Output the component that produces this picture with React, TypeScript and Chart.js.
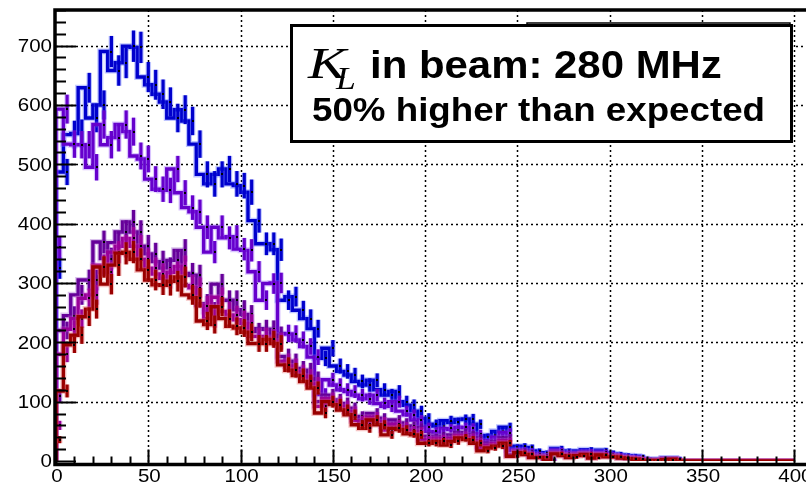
import React, { useEffect, useRef } from "react";
import { Chart, registerables } from "chart.js";

Chart.register(...registerables);

// Histogram binning: 100 bins of width 4 over 0..400
const BIN_WIDTH = 4;
const binLowEdges: number[] = Array.from({ length: 100 }, (_, i) => i * BIN_WIDTH);

const xTickLabels = ["0", "50", "100", "150", "200", "250", "300", "350", "400"];
const yTickLabels = ["0", "100", "200", "300", "400", "500", "600", "700"];

// Counts per bin for each histogram
const blueCounts = [
  325, 487, 550, 552, 629, 578, 600, 690, 658, 671,
  699, 697, 647, 634, 618, 605, 578, 592, 573, 534,
  483, 467, 483, 492, 467, 464, 453, 405, 366, 366,
  356, 271, 277, 254, 240, 223, 173, 190, 160, 151,
  145, 134, 128, 136, 120, 111, 117, 100, 94, 84,
  72, 62, 59, 68, 65, 70, 71, 62, 40, 43,
  50, 57, 23, 25, 23, 17, 14, 3, 21, 17,
  12, 17, 19, 12, 18, 14, 12, 10, 9, 8,
  4, 3, 3, 5, 5, 0, 0, 0, 0, 0,
  0, 0, 0, 0, 0, 0, 0, 0, 0, 0,
];

const violetCounts = [
  360, 593, 534, 533, 533, 495, 567, 533, 545, 567,
  555, 514, 509, 475, 458, 456, 492, 452, 427, 420,
  394, 352, 394, 376, 378, 357, 355, 319, 271, 299,
  300, 215, 214, 204, 193, 175, 112, 137, 128, 120,
  117, 111, 105, 111, 97, 92, 100, 84, 78, 69,
  57, 50, 48, 55, 53, 57, 56, 46, 31, 34,
  40, 48, 18, 19, 17, 12, 10, 2, 18, 14,
  10, 14, 16, 10, 15, 12, 10, 8, 7, 6,
  3, 2, 2, 4, 4, 0, 0, 0, 0, 0,
  0, 0, 0, 0, 0, 0, 0, 0, 0, 0,
];

const purpleCounts = [
  110, 220, 245, 280, 305, 305, 369, 341, 368, 386,
  403, 386, 362, 349, 336, 325, 338, 355, 316, 313,
  265, 252, 298, 271, 271, 255, 247, 218, 223, 222,
  212, 176, 168, 156, 153, 139, 100, 111, 103, 97,
  89, 75, 69, 80, 72, 59, 69, 64, 59, 56,
  42, 39, 42, 39, 44, 48, 44, 39, 25, 30,
  33, 39, 11, 17, 14, 9, 8, 1, 15, 11,
  8, 12, 13, 7, 12, 9, 8, 6, 5, 4,
  2, 1, 1, 3, 3, 0, 0, 0, 0, 0,
  0, 0, 0, 0, 0, 0, 0, 0, 0, 0,
];

const magentaCounts = [
  60, 180, 222, 240, 274, 280, 330, 318, 352, 362,
  375, 362, 340, 325, 315, 308, 318, 328, 296, 292,
  262, 240, 276, 252, 246, 238, 232, 210, 210, 208,
  202, 168, 160, 150, 143, 130, 92, 105, 99, 92,
  83, 68, 62, 74, 66, 52, 62, 58, 52, 50,
  36, 34, 38, 33, 38, 43, 40, 34, 21, 26,
  29, 34, 9, 15, 12, 7, 7, 1, 13, 10,
  7, 10, 12, 6, 11, 8, 8, 6, 5, 4,
  2, 1, 1, 3, 3, 0, 0, 0, 0, 0,
  0, 0, 0, 0, 0, 0, 0, 0, 0, 0,
];

const redCounts = [
  36, 118, 196, 212, 243, 256, 327, 298, 330, 350,
  352, 340, 322, 305, 297, 296, 303, 310, 280, 275,
  236, 230, 260, 240, 227, 224, 217, 198, 198, 205,
  198, 162, 153, 144, 134, 123, 81, 100, 95, 86,
  78, 61, 55, 69, 61, 44, 55, 53, 46, 44,
  30, 30, 33, 27, 33, 39, 36, 30, 17, 22,
  25, 30, 8, 14, 11, 6, 6, 0, 12, 9,
  6, 9, 11, 5, 10, 7, 7, 5, 4, 3,
  1, 1, 1, 2, 3, 0, 0, 0, 0, 0,
  0, 0, 0, 0, 0, 0, 0, 0, 0, 0,
];

const seriesCounts = [blueCounts, violetCounts, purpleCounts, magentaCounts, redCounts];
const seriesColors = ["#0000cc", "#6600cc", "#660099", "#990099", "#990000"];
const haloColors = [
  "rgba(70,90,255,0.35)",
  "rgba(150,90,255,0.35)",
  "rgba(150,80,200,0.35)",
  "rgba(210,80,210,0.35)",
  "rgba(230,90,90,0.35)",
];

const X_MIN = 0;
const X_MAX = 406.3;
const Y_MIN = 0;
const Y_MAX = 760;

const SANS = "'Liberation Sans', Arial, Helvetica, sans-serif";
const SERIF = "'Liberation Serif', 'Times New Roman', serif";
const TEXT_STRETCH = 1.08;

// Step outline of a histogram: rises from zero at the first edge, falls back at the last
function stepPoints(counts: number[]) {
  const pts: { x: number; y: number }[] = [{ x: binLowEdges[0], y: 0 }];
  counts.forEach((c, i) => pts.push({ x: binLowEdges[i], y: c }));
  const lastEdge = binLowEdges[binLowEdges.length - 1] + BIN_WIDTH;
  pts.push({ x: lastEdge, y: 0 });
  return pts;
}

function stretchedText(
  ctx: CanvasRenderingContext2D,
  text: string,
  x: number,
  y: number,
  font: string,
  align: CanvasTextAlign,
  baseline: CanvasTextBaseline,
  sx: number
) {
  ctx.save();
  ctx.font = font;
  ctx.textAlign = align;
  ctx.textBaseline = baseline;
  ctx.fillStyle = "#000";
  ctx.translate(x, y);
  ctx.scale(sx, 1);
  ctx.fillText(text, 0, 0);
  ctx.restore();
}

// Dotted grid behind the histograms
const gridPlugin = {
  id: "dottedGrid",
  beforeDatasetsDraw(chart: any) {
    const { ctx, chartArea, scales } = chart;
    const xs = scales.x;
    const ys = scales.y;
    ctx.save();
    ctx.strokeStyle = "#000";
    ctx.lineWidth = 1.5;
    ctx.setLineDash([2, 3]);
    xTickLabels.forEach((t) => {
      const v = Number(t);
      if (v === X_MIN) return;
      const px = Math.round(xs.getPixelForValue(v)) + 0.5;
      ctx.beginPath();
      ctx.moveTo(px, chartArea.top);
      ctx.lineTo(px, chartArea.bottom + 2);
      ctx.stroke();
    });
    yTickLabels.forEach((t) => {
      const v = Number(t);
      if (v === Y_MIN) return;
      const py = Math.round(ys.getPixelForValue(v)) + 0.5;
      ctx.beginPath();
      ctx.moveTo(chartArea.left, py);
      ctx.lineTo(chartArea.right, py);
      ctx.stroke();
    });
    ctx.restore();
  },
};

// Poisson error bars and bin-centre markers, drawn right after each solid histogram line
const errorBarPlugin = {
  id: "errorBars",
  afterDatasetDraw(chart: any, args: any) {
    const ds = chart.data.datasets[args.index];
    if (ds.halo) return;
    const idx = ds.series;
    const counts = seriesCounts[idx];
    const { ctx, chartArea, scales } = chart;
    const xs = scales.x;
    const ys = scales.y;
    ctx.save();
    ctx.beginPath();
    ctx.rect(chartArea.left, chartArea.top, chartArea.right - chartArea.left, chartArea.bottom - chartArea.top);
    ctx.clip();
    const bars = (color: string, width: number) => {
      ctx.strokeStyle = color;
      ctx.lineWidth = width;
      counts.forEach((c, i) => {
        if (c <= 0) return;
        const err = Math.sqrt(c);
        const px = xs.getPixelForValue(binLowEdges[i] + BIN_WIDTH / 2);
        ctx.beginPath();
        ctx.moveTo(px, ys.getPixelForValue(c - err));
        ctx.lineTo(px, ys.getPixelForValue(c + err));
        ctx.stroke();
      });
    };
    bars(haloColors[idx], 5.5);
    bars(seriesColors[idx], 3.2);
    ctx.fillStyle = "#000";
    counts.forEach((c, i) => {
      if (c <= 0) return;
      const px = xs.getPixelForValue(binLowEdges[i] + BIN_WIDTH / 2);
      const py = ys.getPixelForValue(c);
      ctx.fillRect(Math.round(px) - 1, Math.round(py) - 1, 2, 2);
    });
    ctx.restore();
  },
};

// Frame, inward ticks, tick labels and the annotation box
const framePlugin = {
  id: "frameAndText",
  afterDraw(chart: any) {
    const { ctx, chartArea, scales } = chart;
    const xs = scales.x;
    const ys = scales.y;
    const { left, right, top, bottom } = chartArea;
    const axisY = bottom + 3.5;

    ctx.save();
    ctx.strokeStyle = "#000";
    ctx.setLineDash([]);

    // x ticks: every 10, longer every 50
    ctx.lineWidth = 2;
    for (let v = 0; v <= 400; v += 10) {
      const px = Math.round(xs.getPixelForValue(v)) + 0.5;
      const len = v % 50 === 0 ? 15 : 8;
      ctx.beginPath();
      ctx.moveTo(px, axisY);
      ctx.lineTo(px, axisY - len);
      ctx.stroke();
    }
    // y ticks: every 20, longer every 100
    for (let v = 0; v <= Y_MAX; v += 20) {
      const py = Math.round(ys.getPixelForValue(v)) + 0.5;
      const len = v % 100 === 0 ? 20 : 10;
      ctx.beginPath();
      ctx.moveTo(left, py);
      ctx.lineTo(left + len, py);
      ctx.stroke();
    }

    // frame (left, top, bottom), sitting just outside the plotting region
    ctx.lineWidth = 3.5;
    ctx.beginPath();
    ctx.moveTo(right, top);
    ctx.lineTo(left - 1, top);
    ctx.lineTo(left - 1, axisY);
    ctx.lineTo(right, axisY);
    ctx.stroke();

    // tick labels
    const tickFont = `19px ${SANS}`;
    yTickLabels.forEach((t) => {
      const py = ys.getPixelForValue(Number(t));
      stretchedText(ctx, t, left - 4, py + 1, tickFont, "right", "middle", TEXT_STRETCH);
    });
    xTickLabels.forEach((t) => {
      const px = xs.getPixelForValue(Number(t));
      stretchedText(ctx, t, px + 1, bottom + 21, tickFont, "center", "alphabetic", TEXT_STRETCH);
    });

    // annotation box (a second box peeks out behind it)
    ctx.lineWidth = 1.5;
    ctx.strokeRect(527, 23, 263, 60);
    ctx.fillStyle = "#fff";
    ctx.fillRect(291.5, 25.5, 500, 116);
    ctx.lineWidth = 3;
    ctx.strokeRect(291.5, 25.5, 500, 116);

    stretchedText(ctx, "K", 308, 78, `italic 44px ${SERIF}`, "left", "alphabetic", 1.3);
    stretchedText(ctx, "L", 336, 89, `italic 31px ${SERIF}`, "left", "alphabetic", 1.15);
    stretchedText(ctx, "in beam: 280 MHz", 370, 78, `bold 39px ${SANS}`, "left", "alphabetic", 1.075);
    stretchedText(ctx, "50% higher than expected", 312, 121, `bold 34px ${SANS}`, "left", "alphabetic", 1.08);

    ctx.restore();
  },
};

export default function App() {
  const canvasRef = useRef<HTMLCanvasElement | null>(null);

  useEffect(() => {
    if (!canvasRef.current) return;
    const n = seriesCounts.length;
    const datasets: any[] = [];
    seriesCounts.forEach((counts, i) => {
      // soft outer halo under each line
      datasets.push({
        label: `halo${i}`,
        data: stepPoints(counts),
        borderColor: haloColors[i],
        borderWidth: 6,
        pointRadius: 0,
        fill: false,
        stepped: "after",
        order: 2 * (n - i) + 1,
        halo: true,
        series: i,
      });
      datasets.push({
        label: `h${i}`,
        data: stepPoints(counts),
        borderColor: seriesColors[i],
        borderWidth: 3.4,
        pointRadius: 0,
        fill: false,
        stepped: "after",
        order: 2 * (n - i),
        halo: false,
        series: i,
      });
    });

    const chart = new Chart(canvasRef.current, {
      type: "line",
      data: { datasets },
      options: {
        animation: false,
        responsive: false,
        devicePixelRatio: 1,
        events: [],
        layout: { padding: { left: 56, top: 10, right: 0, bottom: 22 } },
        plugins: { legend: { display: false }, tooltip: { enabled: false } },
        scales: {
          x: { type: "linear", min: X_MIN, max: X_MAX, display: false },
          y: { type: "linear", min: Y_MIN, max: Y_MAX, display: false },
        },
      },
      plugins: [gridPlugin, errorBarPlugin, framePlugin],
    });
    return () => chart.destroy();
  }, []);

  return (
    <div style={{ position: "fixed", left: 0, top: 0, width: 806, height: 483, background: "#fff", overflow: "hidden" }}>
      <canvas ref={canvasRef} width={806} height={483} style={{ display: "block" }} />
    </div>
  );
}
